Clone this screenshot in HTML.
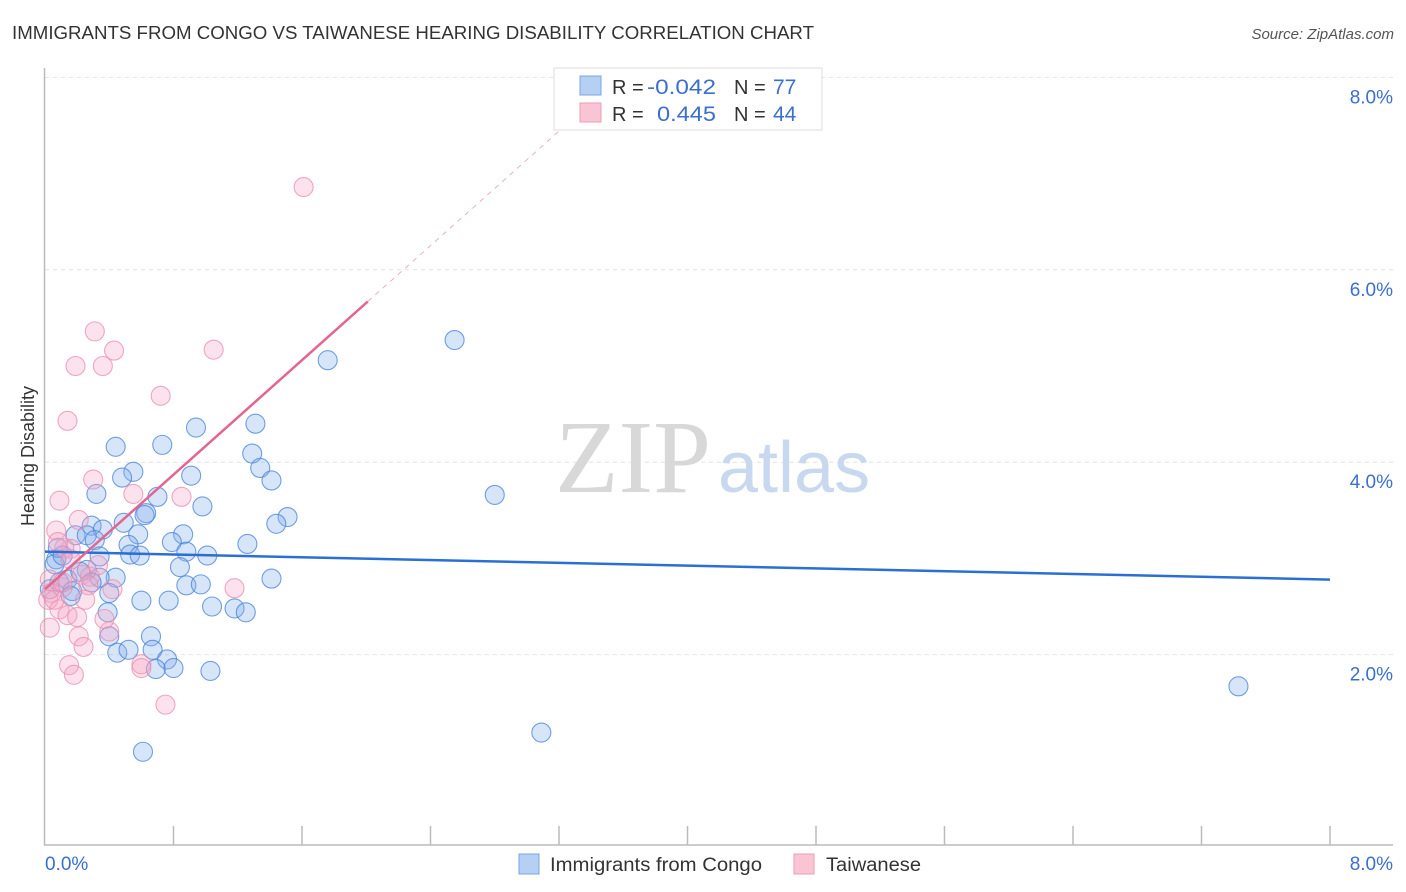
<!DOCTYPE html>
<html><head><meta charset="utf-8"><style>
body{margin:0;background:#fff;font-family:"Liberation Sans",sans-serif;}
svg{display:block}
</style></head><body>
<svg id="chart" width="1406" height="892" xmlns="http://www.w3.org/2000/svg">
<text x="12" y="39" font-size="18" fill="#333" textLength="802" lengthAdjust="spacingAndGlyphs">IMMIGRANTS FROM CONGO VS TAIWANESE HEARING DISABILITY CORRELATION CHART</text>
<text x="1394" y="39" font-size="15" fill="#555" font-style="italic" text-anchor="end">Source: ZipAtlas.com</text>
<text x="34" y="456" font-size="18" fill="#333" text-anchor="middle" transform="rotate(-90 34 456)">Hearing Disability</text>
<g id="grid"></g>
<text x="555" y="492" font-size="104" fill="#d8d8d8" font-family="Liberation Serif,serif">ZIP</text>
<text x="718" y="492" font-size="72" fill="#c8d8ee">atlas</text>
<g id="marks"></g>
<g>
<rect x="554" y="68" width="268" height="62" fill="#fff" stroke="#ddd"/>
<rect x="580" y="76" width="21" height="19" fill="#b6d0f3" stroke="#7aa6e4"/>
<rect x="580" y="103" width="21" height="19" fill="#f9c5d5" stroke="#ee9bb5"/>
<text x="612" y="94" font-size="20" fill="#333">R =</text>
<text x="647" y="94" font-size="21" fill="#3a6fd0" textLength="69" lengthAdjust="spacingAndGlyphs">-0.042</text>
<text x="734" y="94" font-size="20" fill="#333">N =</text>
<text x="773" y="94" font-size="21" fill="#3a6fd0">77</text>
<text x="612" y="121" font-size="20" fill="#333">R =</text>
<text x="657" y="121" font-size="21" fill="#3a6fd0" textLength="59" lengthAdjust="spacingAndGlyphs">0.445</text>
<text x="734" y="121" font-size="20" fill="#333">N =</text>
<text x="773" y="121" font-size="21" fill="#3a6fd0">44</text>
</g>
<g>
<rect x="519" y="854" width="20" height="20" fill="#b6d0f3" stroke="#7aa6e4"/>
<text x="550" y="871" font-size="19" fill="#333" textLength="212" lengthAdjust="spacingAndGlyphs">Immigrants from Congo</text>
<rect x="794" y="854" width="20" height="20" fill="#f9c5d5" stroke="#ee9bb5"/>
<text x="826" y="871" font-size="19" fill="#333" textLength="95" lengthAdjust="spacingAndGlyphs">Taiwanese</text>
</g>
</svg>
<script>
const blueX=[2.55,1.76,2.80,7.43,3.09,0.61,1.31,0.94,0.73,0.44,1.29,1.34,1.41,0.55,0.48,0.91,0.32,0.70,0.98,0.63,0.62,1.51,1.44,0.49,0.29,0.36,0.86,0.58,0.19,0.26,0.31,0.79,1.26,0.52,0.88,0.53,0.59,1.01,0.34,0.07,0.06,0.84,0.26,0.44,0.34,1.41,0.88,0.97,0.09,0.14,0.03,0.17,0.40,0.16,0.60,0.77,1.04,1.18,1.25,0.39,0.40,0.66,0.45,0.52,0.67,0.76,0.69,0.80,1.03,0.08,0.11,0.22,0.29];
const blueY=[5.27,5.06,3.66,1.67,1.19,0.99,4.40,4.36,4.18,4.16,4.09,3.94,3.81,3.90,3.84,3.86,3.67,3.64,3.54,3.47,3.45,3.43,3.36,3.37,3.34,3.30,3.25,3.25,3.24,3.24,3.19,3.17,3.15,3.14,3.07,3.04,3.03,3.03,3.02,2.99,2.94,2.91,2.88,2.80,2.80,2.79,2.72,2.73,2.75,2.78,2.68,2.66,2.64,2.61,2.56,2.56,2.50,2.48,2.44,2.44,2.19,2.19,2.02,2.05,2.05,1.95,1.85,1.86,1.83,3.11,3.03,2.86,2.75];
const pinkX=[1.61,0.31,0.43,1.05,0.19,0.36,0.72,0.14,0.30,0.55,0.85,0.09,0.21,0.07,0.16,0.12,1.18,0.03,0.23,0.28,0.11,0.04,0.02,0.09,0.14,0.20,0.03,0.21,0.24,0.40,0.15,0.18,0.60,0.60,0.75,0.27,0.42,0.33,0.16,0.06,0.11,0.25,0.37,0.08];
const pinkY=[6.86,5.36,5.16,5.17,5.00,5.00,4.69,4.43,3.82,3.67,3.64,3.60,3.40,3.29,3.10,3.11,2.69,2.78,2.83,2.81,2.70,2.64,2.57,2.47,2.41,2.39,2.28,2.19,2.08,2.24,1.89,1.79,1.90,1.86,1.48,2.72,2.68,2.93,2.99,2.57,2.75,2.57,2.37,3.17];
const blueTrend=[3.07,2.78]; // y at x=0 and x=8
const pinkTrend=[2.68,1.488]; // intercept, slope
const xTicks=[0,0.8,1.6,2.4,3.2,4.0,4.8,5.6,6.4,7.2,8.0];
const yTicks=[2,4,6,8];
const yTickLabels=["2.0%","4.0%","6.0%","8.0%"];
const NS="http://www.w3.org/2000/svg";
const sx=v=>45+v*1285/8;
const sy=v=>847-v*96.2;
function mk(tag,attrs,parent){const e=document.createElementNS(NS,tag);for(const k in attrs)e.setAttribute(k,attrs[k]);parent.appendChild(e);return e;}
const grid=document.getElementById('grid'),marks=document.getElementById('marks');
yTicks.forEach((t,i)=>{
 const l=mk('line',{x1:45,x2:1393,y1:sy(t),y2:sy(t),stroke:'#e2e2e2','stroke-dasharray':'4,4'},grid);
 
 
 const tx=mk('text',{x:1393,y:sy(t)+26,'font-size':19,fill:'#3a6fd0','text-anchor':'end'},grid);
 tx.textContent=yTickLabels[i];
 
 
});
const ax=mk('line',{x1:44.5,x2:44.5,y1:68,y2:845,stroke:'#bbb','stroke-width':1.5},grid);


const bx=mk('line',{x1:44,x2:1393,y1:845,y2:845,stroke:'#bbb','stroke-width':1.5},grid);


xTicks.forEach(t=>{
 if(t===0)return;
 const l=mk('line',{x1:sx(t),x2:sx(t),y1:826,y2:845,stroke:'#bbb','stroke-width':1.5},grid);
 
 
});
const xl0=mk('text',{x:45,y:870,'font-size':19,fill:'#3a6fd0'},grid);xl0.textContent='0.0%';


const xl1=mk('text',{x:1393,y:870,'font-size':19,fill:'#3a6fd0','text-anchor':'end'},grid);xl1.textContent='8.0%';


blueX.forEach((x,i)=>{
 const c=mk('circle',{cx:sx(x),cy:sy(blueY[i]),r:9.5,fill:'rgba(130,175,235,0.32)',stroke:'rgba(70,130,215,0.75)','stroke-width':1.1},marks);
 
 
});
pinkX.forEach((x,i)=>{
 const c=mk('circle',{cx:sx(x),cy:sy(pinkY[i]),r:9.5,fill:'rgba(245,165,195,0.32)',stroke:'rgba(232,140,172,0.75)','stroke-width':1.1},marks);
 
 
});
const bt=mk('line',{x1:sx(0),y1:sy(blueTrend[0]),x2:sx(8),y2:sy(blueTrend[1]),stroke:'#2a6fd6','stroke-width':2.5},marks);


const pxEnd=2.01, pxDash=3.35;
const pt=mk('line',{x1:sx(0),y1:sy(pinkTrend[0]),x2:sx(pxEnd),y2:sy(pinkTrend[0]+pinkTrend[1]*pxEnd),stroke:'#e36590','stroke-width':2.5},marks);


const pd=mk('line',{x1:sx(pxEnd),y1:sy(pinkTrend[0]+pinkTrend[1]*pxEnd),x2:sx(pxDash),y2:sy(pinkTrend[0]+pinkTrend[1]*pxDash),stroke:'#e8b0c2','stroke-width':1,'stroke-dasharray':'5,5'},marks);


</script>
</body></html>
